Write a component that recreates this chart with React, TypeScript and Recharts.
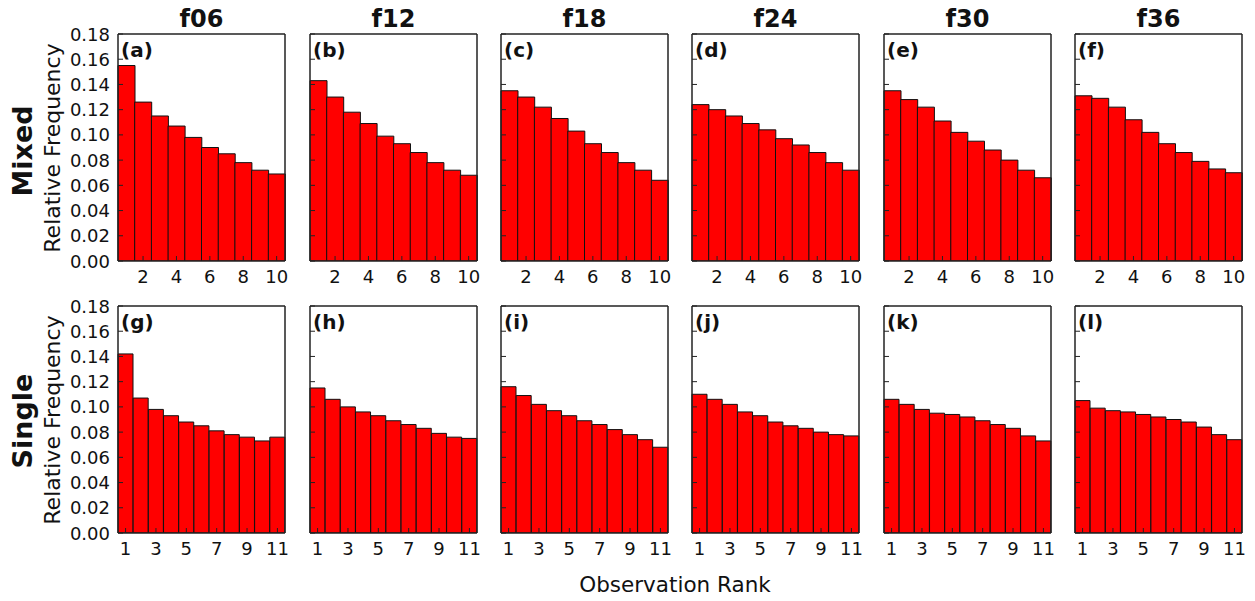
import { BarChart, Bar, XAxis, YAxis } from 'recharts';

// lead times shown as column titles
const leadTimes = ['f06', 'f12', 'f18', 'f24', 'f30', 'f36'];
const mixedLabels = ['(a)', '(b)', '(c)', '(d)', '(e)', '(f)'];
const singleLabels = ['(g)', '(h)', '(i)', '(j)', '(k)', '(l)'];

const mixedRanks = [1, 2, 3, 4, 5, 6, 7, 8, 9, 10];
const singleRanks = [1, 2, 3, 4, 5, 6, 7, 8, 9, 10, 11];
const mixedTicks = [2, 4, 6, 8, 10];
const singleTicks = [1, 3, 5, 7, 9, 11];
const yTicks = [0, 0.02, 0.04, 0.06, 0.08, 0.1, 0.12, 0.14, 0.16, 0.18];

// Mixed (top row)
const mixedF06 = [0.155, 0.126, 0.115, 0.107, 0.098, 0.090, 0.085, 0.078, 0.072, 0.069];
const mixedF12 = [0.143, 0.130, 0.118, 0.109, 0.099, 0.093, 0.086, 0.078, 0.072, 0.068];
const mixedF18 = [0.135, 0.130, 0.122, 0.113, 0.103, 0.093, 0.086, 0.078, 0.072, 0.064];
const mixedF24 = [0.124, 0.120, 0.115, 0.109, 0.104, 0.097, 0.092, 0.086, 0.078, 0.072];
const mixedF30 = [0.135, 0.128, 0.122, 0.111, 0.102, 0.095, 0.088, 0.080, 0.072, 0.066];
const mixedF36 = [0.131, 0.129, 0.122, 0.112, 0.102, 0.093, 0.086, 0.079, 0.073, 0.070];

// Single (bottom row)
const singleF06 = [0.142, 0.107, 0.098, 0.093, 0.088, 0.085, 0.081, 0.078, 0.076, 0.073, 0.076];
const singleF12 = [0.115, 0.106, 0.100, 0.096, 0.093, 0.089, 0.086, 0.083, 0.079, 0.076, 0.075];
const singleF18 = [0.116, 0.109, 0.102, 0.097, 0.093, 0.089, 0.086, 0.082, 0.078, 0.074, 0.068];
const singleF24 = [0.110, 0.106, 0.102, 0.096, 0.093, 0.088, 0.085, 0.083, 0.080, 0.078, 0.077];
const singleF30 = [0.106, 0.102, 0.098, 0.095, 0.094, 0.092, 0.089, 0.086, 0.083, 0.077, 0.073];
const singleF36 = [0.105, 0.099, 0.097, 0.096, 0.094, 0.092, 0.090, 0.088, 0.084, 0.078, 0.074];

const mixedRows = [mixedF06, mixedF12, mixedF18, mixedF24, mixedF30, mixedF36];
const singleRows = [singleF06, singleF12, singleF18, singleF24, singleF30, singleF36];

const FONT = '"DejaVu Sans", sans-serif';
const FRAME = '#222';
const PW = 167;
const PH = 227;
const colLefts = [118, 310, 501, 692, 884, 1075];
const rowTops = [34, 306];

function Panel({ values, ranks, xTicks, label, left, top, showY }: any) {
  const data = ranks.map((rank: number, i: number) => ({ rank, freq: values[i] }));
  const ml = showY ? 66 : 6;
  const mr = 6;
  const mt = 14;
  const mb = 30;
  // axes are 1px thick so they get drawn
  const W = ml + 1 + PW + 1 + mr;
  const H = mt + 1 + PH + 1 + mb;

  const yTick = (p: any) => (
    <g>
      <line x1={p.x} x2={p.x + 5} y1={p.y} y2={p.y} stroke={FRAME} strokeWidth={1} />
      {showY && (
        <text x={p.x - 8} y={p.y} textAnchor="end" dominantBaseline="central" fontSize={18} fill="#111" fontFamily={FONT}>
          {Number(p.payload.value).toFixed(2)}
        </text>
      )}
    </g>
  );

  const xTick = (p: any) => {
    if (!xTicks.includes(p.payload.value)) return <g />;
    return (
      <g>
        <line x1={p.x} x2={p.x} y1={p.y} y2={p.y - 5} stroke={FRAME} strokeWidth={1} />
        <text x={p.x} y={p.y + 15} textAnchor="middle" dominantBaseline="central" fontSize={18} fill="#111" fontFamily={FONT}>
          {p.payload.value}
        </text>
      </g>
    );
  };

  return (
    <div style={{ position: 'absolute', left: left - ml - 1, top: top - mt - 1 }}>
      <BarChart
        width={W}
        height={H}
        data={data}
        margin={{ top: mt, right: mr, bottom: mb, left: ml }}
        barCategoryGap={0}
        barGap={0}
      >
        <Bar dataKey="freq" fill="#ff0000" stroke="#111" strokeWidth={1} isAnimationActive={false} />
        <XAxis
          dataKey="rank"
          type="category"
          height={1}
          interval={0}
          tickSize={0}
          tickMargin={0}
          tickLine={false}
          axisLine={{ stroke: FRAME, strokeWidth: 1.5 }}
          tick={xTick}
        />
        <XAxis
          xAxisId="top"
          orientation="top"
          type="number"
          domain={[0.5, ranks.length + 0.5]}
          height={1}
          tick={false}
          tickLine={false}
          axisLine={{ stroke: FRAME, strokeWidth: 1.5 }}
        />
        <YAxis
          domain={[0, 0.18]}
          ticks={yTicks}
          allowDataOverflow
          width={1}
          interval={0}
          tickSize={0}
          tickMargin={0}
          tickLine={false}
          axisLine={{ stroke: FRAME, strokeWidth: 1.5 }}
          tick={yTick}
        />
        <YAxis
          yAxisId="right"
          orientation="right"
          domain={[0, 0.18]}
          width={1}
          tick={false}
          tickLine={false}
          axisLine={{ stroke: FRAME, strokeWidth: 1.5 }}
        />
      </BarChart>
      <div
        style={{
          position: 'absolute',
          left: ml + 4,
          top: mt + 7,
          fontFamily: FONT,
          fontWeight: 'bold',
          fontSize: 20,
          lineHeight: 1,
          color: '#111',
        }}
      >
        {label}
      </div>
    </div>
  );
}

function Rotated({ text, cx, cy, size, bold }: any) {
  return (
    <div
      style={{
        position: 'absolute',
        left: cx,
        top: cy,
        transform: 'translate(-50%, -50%) rotate(-90deg)',
        whiteSpace: 'nowrap',
        fontFamily: FONT,
        fontSize: size,
        fontWeight: bold ? 'bold' : 'normal',
        lineHeight: 1,
        color: '#111',
      }}
    >
      {text}
    </div>
  );
}

export default function App() {
  return (
    <div style={{ position: 'absolute', left: 0, top: 0, width: 1255, height: 601, background: '#fff', overflow: 'hidden' }}>
      {leadTimes.map((t, i) => (
        <div
          key={t}
          style={{
            position: 'absolute',
            left: colLefts[i],
            width: PW,
            top: 7,
            textAlign: 'center',
            fontFamily: FONT,
            fontWeight: 'bold',
            fontSize: 24,
            lineHeight: 1,
            color: '#111',
          }}
        >
          {t}
        </div>
      ))}
      {mixedRows.map((vals, i) => (
        <Panel
          key={'m' + i}
          values={vals}
          ranks={mixedRanks}
          xTicks={mixedTicks}
          label={mixedLabels[i]}
          left={colLefts[i]}
          top={rowTops[0]}
          showY={i === 0}
        />
      ))}
      {singleRows.map((vals, i) => (
        <Panel
          key={'s' + i}
          values={vals}
          ranks={singleRanks}
          xTicks={singleTicks}
          label={singleLabels[i]}
          left={colLefts[i]}
          top={rowTops[1]}
          showY={i === 0}
        />
      ))}
      <Rotated text="Mixed" cx={22} cy={151} size={27} bold />
      <Rotated text="Single" cx={22} cy={421} size={27} bold />
      <Rotated text="Relative Frequency" cx={53} cy={148} size={22} />
      <Rotated text="Relative Frequency" cx={53} cy={420} size={22} />
      <div
        style={{
          position: 'absolute',
          left: 0,
          width: 1255,
          paddingLeft: 95,
          boxSizing: 'border-box',
          top: 574,
          textAlign: 'center',
          fontFamily: FONT,
          fontSize: 21.5,
          lineHeight: 1,
          color: '#111',
        }}
      >
        Observation Rank
      </div>
    </div>
  );
}
